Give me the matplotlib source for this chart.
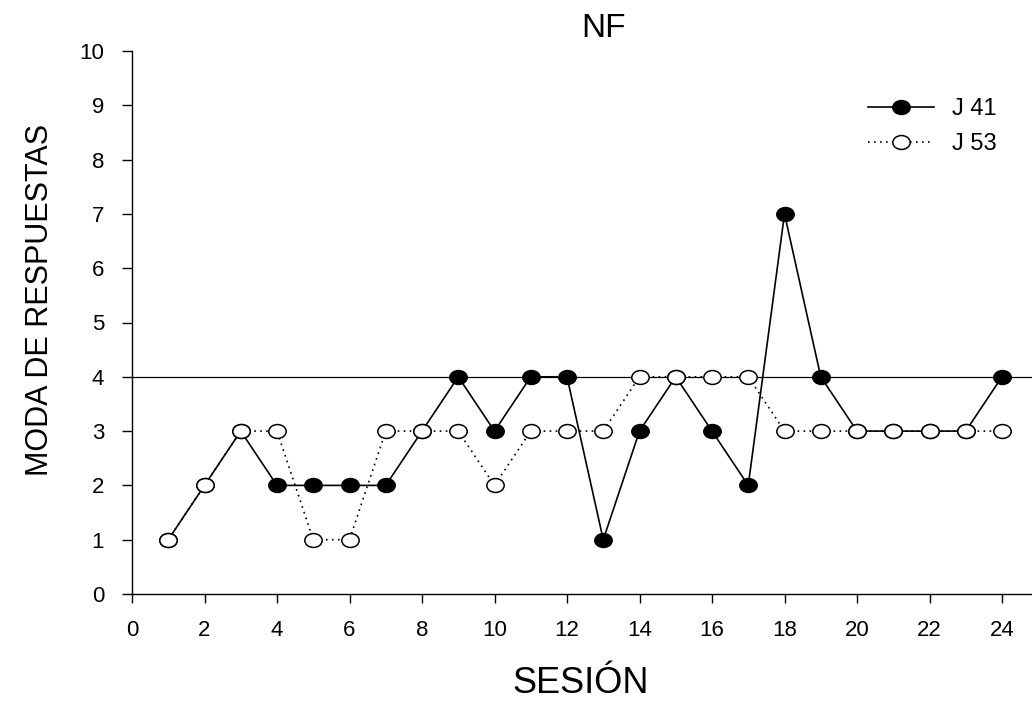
import numpy as np
import matplotlib
matplotlib.use("Agg")
import matplotlib.pyplot as plt
from matplotlib.path import Path
from matplotlib.markers import MarkerStyle

plt.rcParams['font.family'] = ['Liberation Sans', 'DejaVu Sans']

sessions = list(range(1, 25))
j41 = [1, 2, 3, 2, 2, 2, 2, 3, 4, 3, 4, 4, 1, 3, 4, 3, 2, 7, 4, 3, 3, 3, 3, 4]
j53 = [1, 2, 3, 3, 1, 1, 3, 3, 3, 2, 3, 3, 3, 4, 4, 4, 4, 3, 3, 3, 3, 3, 3, 3]
criterion = 4
x_ticks = list(range(0, 25, 2))
y_ticks = list(range(0, 11))

# slightly flattened circle marker
circ = Path.unit_circle()
ell = Path(circ.vertices * np.array([1.0, 0.8]), circ.codes)
mk = MarkerStyle(ell)

W, H = 1032, 701
fig = plt.figure(figsize=(W / 100, H / 100), dpi=100)
ax = fig.add_axes([132 / W, 1 - 594 / H, 900 / W, 543 / H])

ax.axhline(criterion, color='black', lw=0.9, zorder=1)
ax.plot(sessions, j41, color='black', lw=1.2, marker=mk, ms=12.5,
        mfc='black', mec='black', mew=1.1, label='J 41', zorder=2)
ax.plot(sessions, j53, color='black', lw=1.2, ls=(0, (1, 2.6)), marker=mk, ms=12.5,
        mfc='white', mec='black', mew=1.1, label='J 53', zorder=3)

ax.set_xlim(0, 900 / 36.25)
ax.set_ylim(0, 10)
ax.set_xticks(x_ticks)
ax.set_yticks(y_ticks)
ax.spines['top'].set_visible(False)
ax.spines['right'].set_visible(False)
for s in ('left', 'bottom'):
    ax.spines[s].set_linewidth(1.0)
ax.tick_params(axis='x', direction='out', length=6.5, width=1.0, pad=12, labelsize=16)
ax.tick_params(axis='y', direction='out', length=7, width=1.0, pad=13, labelsize=16)

fig.text(604 / W, 1 - 37 / H, 'NF', ha='center', va='baseline', fontsize=24)
fig.text(581 / W, 1 - 693 / H, 'SESIÓN', ha='center', va='baseline', fontsize=26)
fig.text(40 / W, 1 - 300 / H, 'MODA DE RESPUESTAS', ha='center', va='center',
         rotation=90, fontsize=22)

leg = ax.legend(loc='upper left', bbox_to_anchor=(868 / W, 1 - 98 / H),
                bbox_transform=fig.transFigure, frameon=False, fontsize=17,
                handlelength=2.8, handletextpad=0.75, labelspacing=0.55,
                borderpad=0, borderaxespad=0)

fig.savefig('out.png', dpi=100)
